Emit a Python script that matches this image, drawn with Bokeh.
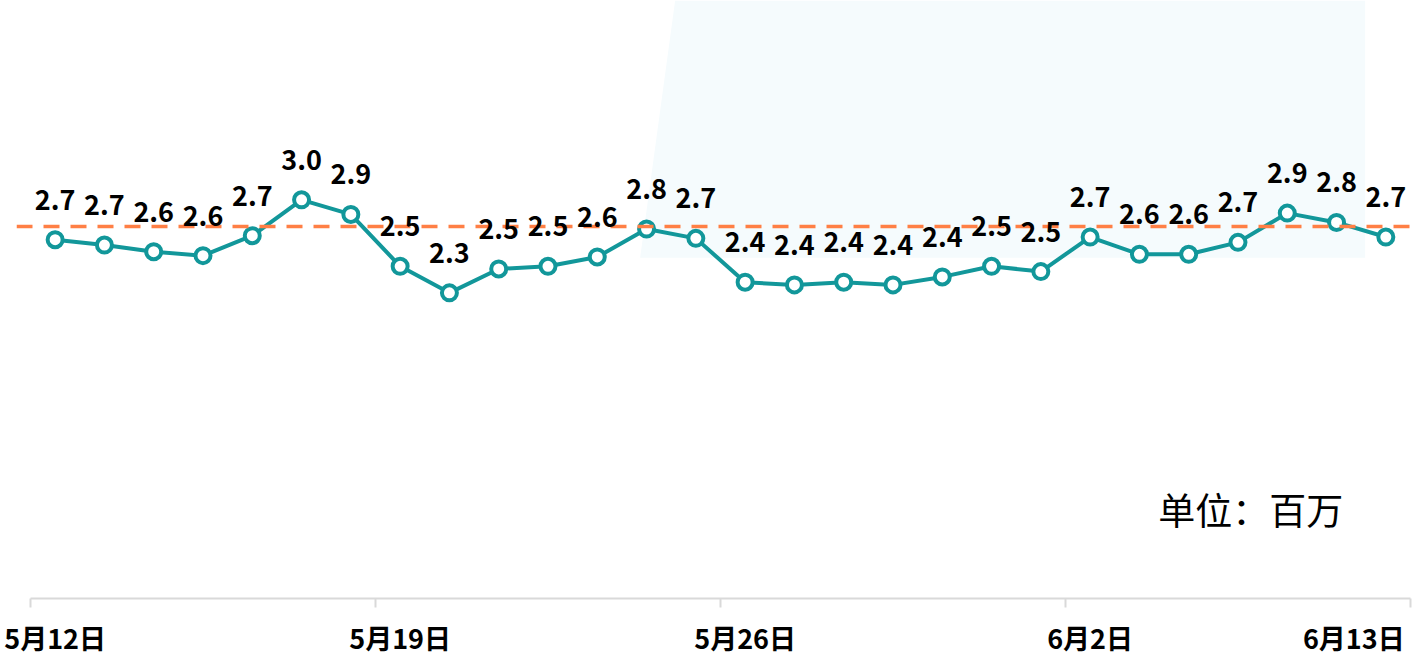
from bokeh.plotting import figure
from bokeh.models import (Range1d, FixedTicker, CustomJSTickFormatter, Span,
                          PolyAnnotation, Label, LabelSet, ColumnDataSource)
from bokeh.embed import file_html
from bokeh.resources import INLINE
from bokeh.core.properties import value

# ---- data ----
values = [2.70, 2.66, 2.61, 2.58, 2.73, 3.00, 2.89, 2.50, 2.30, 2.48,
          2.50, 2.57, 2.78, 2.71, 2.38, 2.36, 2.38, 2.36, 2.42, 2.50,
          2.46, 2.72, 2.59, 2.59, 2.68, 2.90, 2.83, 2.72]
tick_labels = ["5月12日", "5月19日", "5月26日", "6月2日", "6月13日"]
tick_index = [0, 7, 14, 21, 27]
reference_value = 2.8
unit_text = "单位：百万"

n = len(values)
xs = list(range(n))
labels = [f"{v:.1f}" for v in values]
src = ColumnDataSource(dict(x=xs, y=values, label=labels))

FONT = "Noto Sans CJK SC"
TEAL = "#12979a"
ORANGE = "#ff7f45"

p = figure(width=1412, height=659, output_backend="svg", toolbar_location=None,
           x_range=Range1d(-0.784, n - 0.5 + 0.041), y_range=Range1d(0, 4.5),
           min_border_left=16, min_border_right=0, min_border_top=0,
           min_border_bottom=59)
p.outline_line_color = None
p.xgrid.visible = False
p.ygrid.visible = False
p.yaxis.visible = False
p.background_fill_color = "white"
p.border_fill_color = "white"

# decorative light background panel
panel = PolyAnnotation(xs=[12.58, 26.58, 26.58, 11.87], ys=[4.5, 4.5, 2.565, 2.565],
                       fill_color="#f5fbfd", fill_alpha=1.0, line_color=None,
                       level="underlay")
p.add_layout(panel)

# series
p.line("x", "y", source=src, line_color=TEAL, line_width=4)
p.scatter("x", "y", source=src, size=15, fill_color="white", line_color=TEAL,
          line_width=4)

# reference dashed line (drawn over the series)
p.add_layout(Span(location=reference_value, dimension="width", line_color=ORANGE,
                  line_width=3.5, line_dash="16 11"))

# value labels (over the dashed line)
p.add_layout(LabelSet(x="x", y="y", text="label", source=src, text_font=value(FONT),
                      text_font_style="bold", text_font_size="27px",
                      text_color="black", text_align="center",
                      text_baseline="middle", y_offset=40))

# x axis
label_pos = tick_index[:-1] + [tick_index[-1] - 0.65]
bounds_ticks = [i - 0.5 for i in range(0, n + 1, 7)]
ax = p.xaxis[0]
ax.ticker = FixedTicker(ticks=label_pos, minor_ticks=bounds_ticks)
ax.formatter = CustomJSTickFormatter(args=dict(pos=label_pos, labs=tick_labels),
    code="const i = pos.findIndex(v => Math.abs(v - tick) < 1e-6); return i >= 0 ? labs[i] : '';")
ax.bounds = (-0.5, n - 0.5)
ax.axis_line_color = "#d9d9d9"
ax.axis_line_width = 2
ax.major_tick_out = 0
ax.major_tick_in = 0
ax.minor_tick_out = 9
ax.minor_tick_in = 0
ax.minor_tick_line_color = "#d9d9d9"
ax.minor_tick_line_width = 2
ax.major_label_standoff = 10
ax.major_label_text_font = FONT
ax.major_label_text_font_style = "bold"
ax.major_label_text_font_size = "27px"
ax.major_label_text_color = "black"

# unit label
p.add_layout(Label(x=22.38, y=0.675, text=unit_text, text_font=FONT,
                   text_font_size="37px", text_color="black",
                   text_align="left", text_baseline="middle"))

open("out.html", "w").write(file_html(p, INLINE))
